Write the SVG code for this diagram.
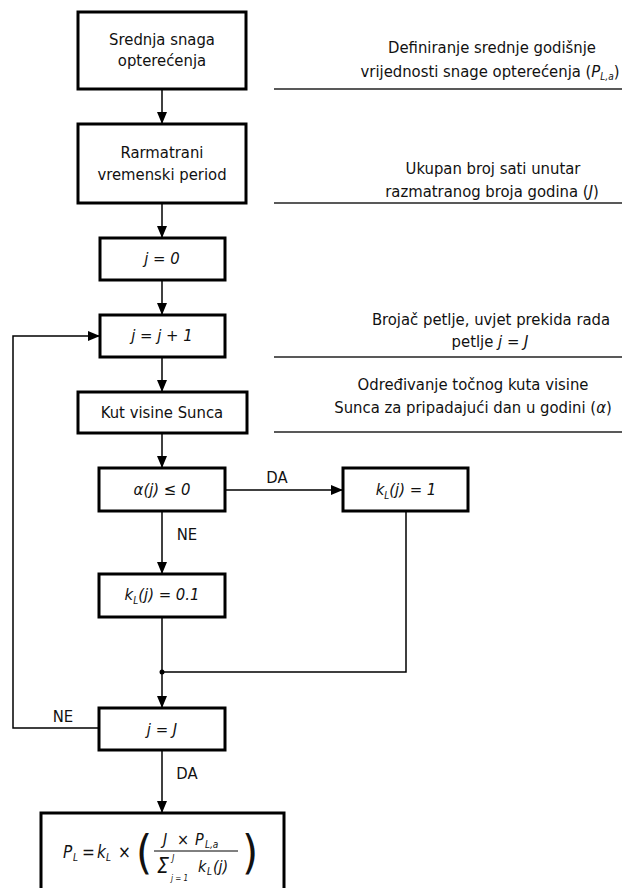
<svg xmlns="http://www.w3.org/2000/svg" width="625" height="888" viewBox="0 0 625 888">
<defs>
<style>
.box{fill:#fff;stroke:#000;stroke-width:3}
.t{font-family:"DejaVu Sans Condensed","DejaVu Sans",sans-serif;font-size:16.5px;fill:#111;text-anchor:middle}
.f{font-family:"DejaVu Sans Condensed","DejaVu Sans",sans-serif;font-size:17px;fill:#111;text-anchor:start}
.i{font-style:italic}
.sub{font-size:10px}
.c{fill:none;stroke:#000;stroke-width:1.5}
.rule{stroke:#222;stroke-width:1.5}
</style>
<marker id="ah" markerUnits="userSpaceOnUse" markerWidth="12" markerHeight="10" refX="12" refY="5" orient="auto">
<path d="M0,0 L12,5 L0,10 z" fill="#000"/>
</marker>
</defs>
<rect width="625" height="888" fill="#fff"/>

<g id="connectors">
<line class="c" x1="162" y1="89" x2="162" y2="124" marker-end="url(#ah)"/>
<line class="c" x1="162" y1="203" x2="162" y2="238" marker-end="url(#ah)"/>
<line class="c" x1="162" y1="280" x2="162" y2="315" marker-end="url(#ah)"/>
<line class="c" x1="162" y1="357" x2="162" y2="392" marker-end="url(#ah)"/>
<line class="c" x1="162" y1="433" x2="162" y2="468" marker-end="url(#ah)"/>
<line class="c" x1="225" y1="490" x2="343" y2="490" marker-end="url(#ah)"/>
<line class="c" x1="162" y1="511" x2="162" y2="574" marker-end="url(#ah)"/>
<line class="c" x1="162" y1="617" x2="162" y2="708" marker-end="url(#ah)"/>
<polyline class="c" points="406,511 406,672 162,672"/>
<circle cx="162" cy="672" r="2.5" fill="#000"/>
<polyline class="c" points="99,728 13,728 13,336 100,336" marker-end="url(#ah)"/>
<line class="c" x1="162" y1="750" x2="162" y2="813" marker-end="url(#ah)"/>
<text class="t" x="277" y="483">DA</text>
<text class="t" x="187" y="540">NE</text>
<text class="t" x="63" y="722">NE</text>
<text class="t" x="187" y="779">DA</text>
</g>

<g id="n1">
<rect class="box" x="78" y="12" width="168" height="77"/>
<text class="t" x="162" y="45">Srednja snaga</text>
<text class="t" x="162" y="66">opterećenja</text>
</g>
<g id="n2">
<rect class="box" x="78" y="124" width="168" height="79"/>
<text class="t" x="162" y="158">Rarmatrani</text>
<text class="t" x="162" y="180">vremenski period</text>
</g>
<g id="n3">
<rect class="box" x="100" y="238" width="125" height="42"/>
<text class="t i" x="162" y="264">j = 0</text>
</g>
<g id="n4">
<rect class="box" x="100" y="315" width="125" height="42"/>
<text class="t i" x="162" y="341">j = j + 1</text>
</g>
<g id="n5">
<rect class="box" x="78" y="392" width="169" height="41"/>
<text class="t" x="162" y="418">Kut visine Sunca</text>
</g>
<g id="n6">
<rect class="box" x="99" y="468" width="126" height="43"/>
<text class="t i" x="162" y="495">α(j) ≤ 0</text>
</g>
<g id="n7">
<rect class="box" x="343" y="468" width="125" height="43"/>
<text class="t i" x="406" y="495">k<tspan class="sub" dy="4">L</tspan><tspan dy="-4">(j) = 1</tspan></text>
</g>
<g id="n8">
<rect class="box" x="99" y="574" width="126" height="43"/>
<text class="t i" x="162" y="600">k<tspan class="sub" dy="4">L</tspan><tspan dy="-4">(j) = 0.1</tspan></text>
</g>
<g id="n9">
<rect class="box" x="99" y="708" width="126" height="42"/>
<text class="t i" x="162" y="735">j = J</text>
</g>
<g id="n10">
<rect class="box" x="41" y="813" width="243" height="90"/>
<text class="f i" x="63" y="858">P</text>
<text class="f i" x="73" y="861" style="font-size:10px">L</text>
<text class="f" x="82" y="858">=</text>
<text class="f i" x="97" y="858">k</text>
<text class="f i" x="106" y="861" style="font-size:10px">L</text>
<text class="f" x="118" y="858">×</text>
<text class="f" x="136" y="868" style="font-size:46px">(</text>
<text class="f i" x="163" y="845" style="font-size:16px">J</text>
<text class="f i" x="177" y="845" style="font-size:16px">×</text>
<text class="f i" x="195" y="845" style="font-size:16px">P</text>
<text class="f i" x="205" y="848" style="font-size:10px">L,a</text>
<line x1="154" y1="851" x2="238" y2="851" stroke="#000" stroke-width="1"/>
<text class="f i" x="157" y="873" style="font-size:21px">Σ</text>
<text class="f i" x="172" y="861" style="font-size:9px">J</text>
<text class="f i" x="171" y="881" style="font-size:8px">j = 1</text>
<text class="f i" x="198" y="872" style="font-size:16px">k</text>
<text class="f i" x="207" y="875" style="font-size:10px">L</text>
<text class="f i" x="213" y="872" style="font-size:16px">(j)</text>
<text class="f" x="242" y="868" style="font-size:46px">)</text>
</g>

<g id="notes">
<line class="rule" x1="274" y1="89" x2="622" y2="89"/>
<line class="rule" x1="274" y1="203" x2="622" y2="203"/>
<line class="rule" x1="274" y1="357" x2="622" y2="357"/>
<line class="rule" x1="274" y1="432" x2="622" y2="432"/>
<text class="t" x="492" y="53">Definiranje srednje godišnje</text>
<text class="t" x="490" y="77">vrijednosti snage opterećenja (<tspan class="i">P</tspan><tspan class="i sub" dy="3">L,a</tspan><tspan dy="-3">)</tspan></text>
<text class="t" x="493" y="174">Ukupan broj sati unutar</text>
<text class="t" x="492" y="197">razmatranog broja godina (<tspan class="i">J</tspan>)</text>
<text class="t" x="491" y="325">Brojač petlje, uvjet prekida rada</text>
<text class="t" x="490" y="347">petlje <tspan class="i">j = J</tspan></text>
<text class="t" x="473" y="390">Određivanje točnog kuta visine</text>
<text class="t" x="473" y="413">Sunca za pripadajući dan u godini (<tspan class="i">α</tspan>)</text>
</g>
</svg>
